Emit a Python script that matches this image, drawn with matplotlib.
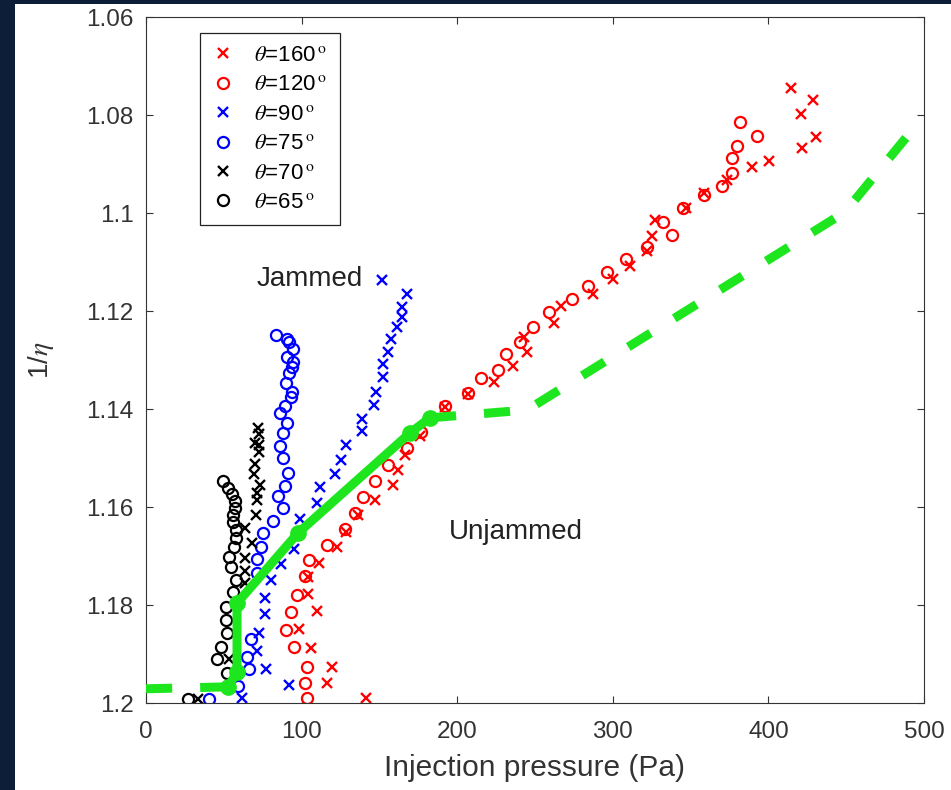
import matplotlib
matplotlib.use("Agg")
import matplotlib.pyplot as plt
from matplotlib.patches import Rectangle

plt.rcParams["font.family"] = ["Liberation Sans", "DejaVu Sans"]
plt.rcParams["mathtext.fontset"] = "stix"

# theta = 160 deg (red crosses)
p160 = [141.4, 116.3, 119.5, 106.0, 98.3, 109.9, 104.1, 104.1, 111.2, 122.8,
        128.5, 136.2, 147.2, 158.7, 162.0, 166.5, 176.1, 192.2, 206.9, 223.7,
        235.9, 244.9, 242.9, 262.2, 266.7, 287.3, 300.1, 311.1, 322.0, 325.2,
        327.1, 347.0, 358.6, 373.4, 389.5, 400.4, 421.6, 430.6, 421.0, 428.7,
        414.5]
e160 = [1.1990, 1.1959, 1.1927, 1.1888, 1.1849, 1.1812, 1.1778, 1.1743, 1.1714, 1.1682,
        1.1651, 1.1616, 1.1586, 1.1555, 1.1525, 1.1494, 1.1455, 1.1396, 1.1369, 1.1345,
        1.1312, 1.1284, 1.1253, 1.1224, 1.1190, 1.1165, 1.1135, 1.1108, 1.1078, 1.1047,
        1.1014, 1.0990, 1.0959, 1.0933, 1.0906, 1.0894, 1.0867, 1.0845, 1.0798, 1.0769,
        1.0745]

# theta = 120 deg (red circles)
p120 = [103.5, 102.2, 103.5, 95.1, 90.0, 93.2, 97.0, 102.2, 104.8, 116.3,
        127.9, 134.3, 139.5, 147.2, 155.5, 167.7, 176.7, 192.2, 206.9, 215.3,
        226.2, 231.4, 240.4, 248.7, 259.0, 273.8, 284.1, 296.3, 308.5, 322.0,
        338.0, 332.3, 345.1, 358.6, 370.2, 376.6, 376.6, 379.8, 392.7, 381.7]
e120 = [1.1990, 1.1959, 1.1927, 1.1886, 1.1851, 1.1814, 1.1780, 1.1741, 1.1708, 1.1678,
        1.1645, 1.1612, 1.1580, 1.1547, 1.1514, 1.1480, 1.1447, 1.1394, 1.1367, 1.1337,
        1.1320, 1.1288, 1.1263, 1.1233, 1.1202, 1.1176, 1.1149, 1.1120, 1.1094, 1.1069,
        1.1045, 1.1018, 1.0990, 1.0963, 1.0945, 1.0918, 1.0888, 1.0863, 1.0843, 1.0814]

# theta = 90 deg (blue crosses)
p90 = [151.7, 167.7, 164.5, 164.5, 161.3, 157.5, 155.5, 152.3, 152.3, 147.8,
       146.5, 138.8, 138.8, 128.5, 125.3, 121.5, 111.8, 109.9, 99.0, 95.1,
       86.8, 80.3, 76.5, 76.5, 72.6, 71.3, 77.1, 91.9, 61.7]
e90 = [1.1137, 1.1165, 1.1192, 1.1212, 1.1233, 1.1257, 1.1284, 1.1308, 1.1335, 1.1365,
       1.1392, 1.1420, 1.1445, 1.1473, 1.1504, 1.1533, 1.1559, 1.1592, 1.1624, 1.1686,
       1.1716, 1.1749, 1.1786, 1.1818, 1.1857, 1.1894, 1.1931, 1.1963, 1.1990]

# theta = 75 deg (blue circles)
p75 = [83.5, 90.6, 91.9, 94.5, 90.6, 94.5, 93.8, 91.9, 90.0, 93.8,
       93.2, 89.3, 86.1, 90.6, 88.0, 86.1, 88.0, 91.3, 89.3, 84.8,
       88.0, 81.6, 75.2, 73.9, 71.3, 71.3, 67.5, 64.9, 66.2, 59.1, 40.5]
e75 = [1.1249, 1.1257, 1.1263, 1.1278, 1.1294, 1.1304, 1.1314, 1.1327, 1.1347, 1.1365,
       1.1376, 1.1394, 1.1408, 1.1429, 1.1449, 1.1476, 1.1500, 1.1531, 1.1557, 1.1578,
       1.1602, 1.1629, 1.1653, 1.1682, 1.1706, 1.1735, 1.1869, 1.1906, 1.1931, 1.1965,
       1.1992]

# theta = 70 deg (black crosses)
p70 = [72.0, 72.6, 70.1, 72.6, 72.6, 70.1, 69.4, 73.3, 71.3, 71.3,
       70.7, 63.6, 68.1, 63.6, 63.6, 63.6, 53.3, 33.4]
e70 = [1.1439, 1.1451, 1.1469, 1.1473, 1.1488, 1.1512, 1.1533, 1.1555, 1.1571, 1.1586,
       1.1616, 1.1643, 1.1673, 1.1704, 1.1731, 1.1755, 1.1910, 1.1992]

# theta = 65 deg (black circles)
p65 = [49.5, 52.7, 55.3, 57.2, 57.2, 55.9, 55.9, 57.8, 57.8, 56.6,
       53.3, 54.6, 57.8, 55.9, 51.4, 51.4, 52.1, 48.2, 45.6, 52.1, 27.0]
e65 = [1.1547, 1.1561, 1.1573, 1.1588, 1.1602, 1.1616, 1.1631, 1.1647, 1.1663, 1.1682,
       1.1702, 1.1722, 1.1749, 1.1773, 1.1804, 1.1831, 1.1857, 1.1886, 1.1910, 1.1939,
       1.1992]

# jamming boundary
low_p = [0.0, 52.7]
low_e = [1.1971, 1.1967]
mid_p = [52.7, 58.5, 58.5, 97.7, 169.7, 182.5]
mid_e = [1.1967, 1.1937, 1.1796, 1.1653, 1.1449, 1.1418]
high_p = [182.5, 244.9, 449.2, 494.2]
high_e = [1.1418, 1.1402, 1.0998, 1.0824]

xticks = [0, 100, 200, 300, 400, 500]
yticks = [1.06, 1.08, 1.1, 1.12, 1.14, 1.16, 1.18, 1.2]

navy = "#0c1e38"
green = "#1ee61e"
ink = "#333333"

fig = plt.figure(figsize=(9.51, 7.90), dpi=100)
fig.patch.set_facecolor(navy)
fig.add_artist(Rectangle((15 / 951, 0), 1, 1 - 4 / 790, transform=fig.transFigure,
                         facecolor="white", edgecolor="none", zorder=0))

ax = fig.add_axes([146 / 951, 1 - 703 / 790, 778 / 951, 686 / 790])

deg = r"$\,^{\mathrm{o}}$"
ms_x, ms_o = 6.5, 8
ax.plot(p160, e160, "x", color="red", ms=ms_x, mew=1.7, label=r"$\theta$=160" + deg)
ax.plot(p120, e120, "o", color="red", mfc="none", ms=ms_o, mew=1.6, label=r"$\theta$=120" + deg)
ax.plot(p90, e90, "x", color="blue", ms=ms_x, mew=1.7, label=r"$\theta$=90" + deg)
ax.plot(p75, e75, "o", color="blue", mfc="none", ms=ms_o, mew=1.6, label=r"$\theta$=75" + deg)
ax.plot(p70, e70, "x", color="black", ms=ms_x, mew=1.7, label=r"$\theta$=70" + deg)
ax.plot(p65, e65, "o", color="black", mfc="none", ms=ms_o, mew=1.6, label=r"$\theta$=65" + deg)

ax.plot(low_p, low_e, color=green, lw=6.5, dashes=(2.9, 3.1), zorder=5)
ax.plot(high_p, high_e, color=green, lw=6.5, dashes=(2.9, 3.1), zorder=5)
ax.plot(mid_p, mid_e, color=green, lw=6.5, marker="o", ms=11, zorder=6,
        solid_capstyle="round", solid_joinstyle="round")

ax.text(105.5, 1.1135, "Jammed", fontsize=20, ha="center", va="center", color="#222222")
ax.text(237.5, 1.1652, "Unjammed", fontsize=20, ha="center", va="center", color="#222222")

ax.set_xlim(0, 500)
ax.set_ylim(1.2, 1.06)
ax.set_xticks(xticks)
ax.set_yticks(yticks)
ax.set_yticklabels([f"{v:g}" for v in yticks])
ax.tick_params(direction="in", top=True, right=True, length=5, width=0.8,
               labelsize=17.5, colors=ink)
ax.tick_params(axis="y", pad=9)
ax.tick_params(axis="x", pad=13)
for s in ax.spines.values():
    s.set_color(ink)
    s.set_linewidth(0.8)

ax.set_xlabel("Injection pressure (Pa)", fontsize=21.5, color=ink, labelpad=8)
ax.set_ylabel(r"1/$\eta$", fontsize=20, color=ink, labelpad=22)

leg = ax.legend(loc="upper left", bbox_to_anchor=(0.069, 0.977), borderaxespad=0,
                fontsize=16, fancybox=False, edgecolor="#222222", framealpha=1,
                handlelength=1.0, handletextpad=0.9, labelspacing=0.38,
                borderpad=0.55)
leg.get_frame().set_linewidth(0.9)

fig.savefig("out.png", dpi=100, facecolor=fig.get_facecolor())
